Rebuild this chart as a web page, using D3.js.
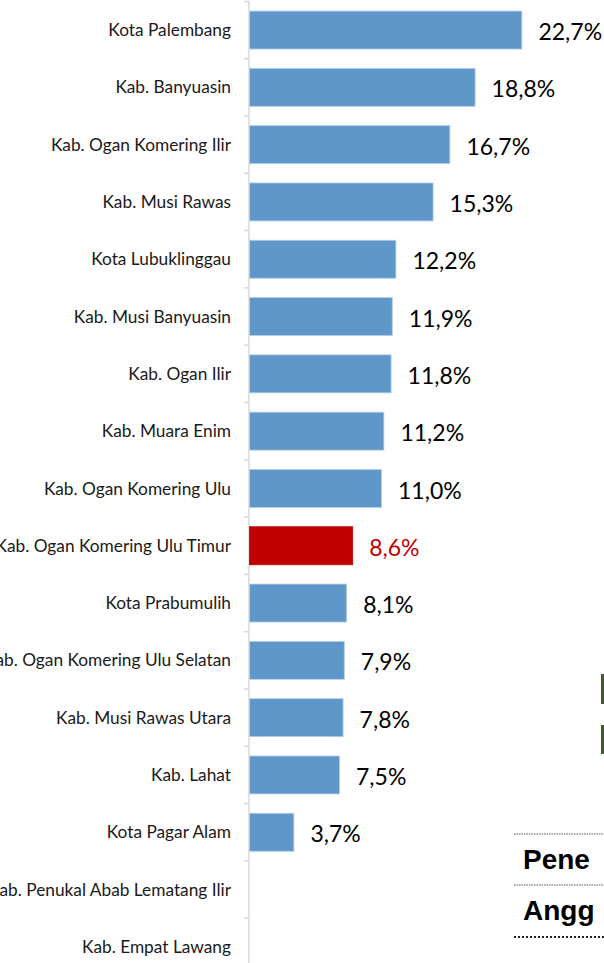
<!DOCTYPE html>
<html>
<head>
<meta charset="utf-8">
<script src="https://cdn.jsdelivr.net/npm/d3@7"></script>
<style>
  html, body { margin: 0; padding: 0; background: #ffffff; }
  svg { display: block; }
</style>
</head>
<body>
<svg id="chart" width="604" height="963"></svg>
<script>
const categories = [
  "Kota Palembang",
  "Kab. Banyuasin",
  "Kab. Ogan Komering Ilir",
  "Kab. Musi Rawas",
  "Kota Lubuklinggau",
  "Kab. Musi Banyuasin",
  "Kab. Ogan Ilir",
  "Kab. Muara Enim",
  "Kab. Ogan Komering Ulu",
  "Kab. Ogan Komering Ulu Timur",
  "Kota Prabumulih",
  "Kab. Ogan Komering Ulu Selatan",
  "Kab. Musi Rawas Utara",
  "Kab. Lahat",
  "Kota Pagar Alam",
  "Kab. Penukal Abab Lematang Ilir",
  "Kab. Empat Lawang"
];
const values = [22.7, 18.8, 16.7, 15.3, 12.2, 11.9, 11.8, 11.2, 11.0, 8.6, 8.1, 7.9, 7.8, 7.5, 3.7, null, null];
const highlight = "Kab. Ogan Komering Ulu Timur";
const sideTexts = ["Pene", "Angg"];

const svg = d3.select("#chart");
const step = 57.3;
const y0 = 1.4;
const x = d3.scaleLinear().domain([0, 25]).range([249, 549]);
const y = d3.scaleBand().domain(categories)
  .range([y0, y0 + step * categories.length])
  .paddingInner(0.337).paddingOuter(0.1685);

const loc = d3.formatLocale({decimal: ",", thousands: ".", grouping: [3], currency: ["", ""]});
const fmt = loc.format(".1f");

const data = categories.map((c, i) => ({cat: c, v: values[i]}));

// axis line + ticks
const axisG = svg.append("g");
axisG.append("line")
  .attr("x1", x(0)).attr("x2", x(0))
  .attr("y1", y.range()[0]).attr("y2", y.range()[1])
  .attr("stroke", "#d9d9d9").attr("stroke-width", 1.5);
const bounds = d3.range(categories.length + 1).map(i => y.range()[0] + i * y.step());
axisG.selectAll("line.tick").data(bounds).join("line")
  .attr("class", "tick")
  .attr("x1", x(0) - 5).attr("x2", x(0))
  .attr("y1", d => d).attr("y2", d => d)
  .attr("stroke", "#d9d9d9").attr("stroke-width", 1.5);

// bars
svg.append("g").selectAll("rect").data(data.filter(d => d.v != null)).join("rect")
  .attr("x", x(0) + 0.5)
  .attr("y", d => y(d.cat))
  .attr("width", d => x(d.v) - x(0))
  .attr("height", y.bandwidth())
  .attr("fill", d => d.cat === highlight ? "#c00000" : "#6097c9")
  .attr("stroke", d => d.cat === highlight ? "#c00000" : "#b7cfe8")
  .attr("stroke-width", 0.8);

// category labels
svg.append("g").selectAll("text").data(data).join("text")
  .attr("x", 231)
  .attr("y", d => y(d.cat) + y.bandwidth() / 2)
  .attr("dy", "0.35em")
  .attr("text-anchor", "end")
  .attr("font-family", "Lato, 'Open Sans', sans-serif")
  .attr("font-size", 17.3)
  .attr("fill", "#1a1a1a")
  .text(d => d.cat);

// value labels
svg.append("g").selectAll("text").data(data.filter(d => d.v != null)).join("text")
  .attr("x", d => x(d.v) + 17)
  .attr("y", d => y(d.cat) + y.bandwidth() / 2 + 2)
  .attr("dy", "0.35em")
  .attr("font-family", "Lato, 'Open Sans', sans-serif")
  .attr("font-size", 23)
  .attr("fill", d => d.cat === highlight ? "#c00000" : "#000000")
  .text(d => fmt(d.v) + "%");

// cropped side elements on the right
const side = svg.append("g");
[[674, 704], [725, 754]].forEach(([a, b]) => {
  side.append("rect").attr("x", 601).attr("y", a).attr("width", 4).attr("height", b - a).attr("fill", "#3b5e27");
});
[834, 885].forEach(yy => {
  side.append("line").attr("x1", 514).attr("x2", 604).attr("y1", yy).attr("y2", yy)
    .attr("stroke", "#555").attr("stroke-width", 1.2).attr("stroke-dasharray", "1.5,1");
});
side.append("line").attr("x1", 514).attr("x2", 604).attr("y1", 937).attr("y2", 937)
  .attr("stroke", "#222").attr("stroke-width", 2).attr("stroke-dasharray", "2,2");
side.selectAll("text").data(sideTexts).join("text")
  .attr("x", 523)
  .attr("y", (d, i) => [869, 920][i])
  .attr("font-family", "'Liberation Sans', Arial, sans-serif")
  .attr("font-weight", "bold")
  .attr("font-size", 28)
  .attr("fill", "#000")
  .text(d => d);
</script>
</body>
</html>
